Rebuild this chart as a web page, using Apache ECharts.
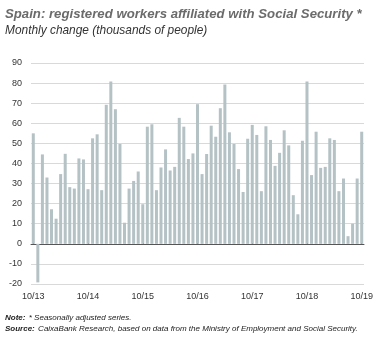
<!DOCTYPE html>
<html>
<head>
<meta charset="utf-8">
<script src="https://cdn.jsdelivr.net/npm/echarts@6/dist/echarts.min.js"></script>
<style>
html,body{margin:0;padding:0;background:#fff;}
#chart{width:380px;height:338px;}
</style>
</head>
<body>
<div id="chart"></div>
<script>
// Monthly change in Social Security affiliates (thousands), 10/2013 - 10/2019
const startYear = 13, startMonth = 10;
const values = [
  55, -19.2, 44.5, 33, 17.2, 12.5, 34.7, 44.8, 28.2, 27.5, 42.5, 42,
  27.2, 52.5, 54.5, 26.7, 69.2, 80.8, 67, 49.7, 10.5, 27.5, 31.3, 36,
  19.7, 58.3, 59.5, 26.7, 38, 47, 36.5, 38.3, 62.7, 58.3, 42.2, 45,
  69.5, 34.7, 44.7, 58.8, 53.3, 67.5, 79.3, 55.5, 49.7, 37.2, 25.8, 52.3,
  59.2, 54.2, 26.2, 58.5, 51.7, 38.8, 45.3, 56.5, 49, 24.2, 14.7, 51.3,
  80.8, 34.2, 55.8, 37.8, 38.3, 52.5, 51.7, 26.2, 32.5, 3.8, 10, 32.5, 55.8
];
const categories = [];
for (let i = 0; i < values.length; i++) {
  const m = (startMonth - 1 + i) % 12 + 1;
  const y = startYear + Math.floor((startMonth - 1 + i) / 12);
  categories.push(m + '/' + y);
}
const yTicks = {min: -20, max: 90, interval: 10};

const chart = echarts.init(document.getElementById('chart'), null, {renderer: 'canvas'});
const fontFam = '"Liberation Sans", Arial, sans-serif';
chart.setOption({
  animation: false,
  grid: {left: 31, right: 16, top: 63, bottom: 54, containLabel: false},
  xAxis: [
    {
      type: 'category', data: categories,
      axisLine: {show: true, onZero: true, lineStyle: {color: '#555', width: 1}},
      axisTick: {show: true, interval: 11, alignWithLabel: true, inside: true, length: 2, lineStyle: {color: '#333'}},
      axisLabel: {show: false},
      splitLine: {show: false}
    },
    {
      type: 'category', data: categories, position: 'bottom',
      axisLine: {show: false, onZero: false},
      axisTick: {show: false},
      axisLabel: {show: true, interval: 11, color: '#333', fontSize: 9, fontFamily: fontFam, margin: 8},
      splitLine: {show: false}
    }
  ],
  yAxis: {
    type: 'value', min: yTicks.min, max: yTicks.max, interval: yTicks.interval,
    axisLine: {show: false}, axisTick: {show: false},
    axisLabel: {color: '#333', fontSize: 9, fontFamily: fontFam, margin: 9},
    splitLine: {lineStyle: {color: '#d9d9d9', width: 1}}
  },
  series: [{
    type: 'bar', data: values, xAxisIndex: 0, barWidth: 3,
    itemStyle: {color: '#b4c1c5'}
  }],
  graphic: [
    {type: 'text', left: 5, top: 8, style: {text: 'Spain: registered workers affiliated with Social Security *', font: 'italic bold 13.2px ' + fontFam, fill: '#6b6b6b'}},
    {type: 'text', left: 5, top: 25, style: {text: 'Monthly change (thousands of people)', font: 'italic 11.9px ' + fontFam, fill: '#333'}},
    {type: 'text', left: 5, top: 312, style: {
      text: '{b|Note:} {i|* Seasonally adjusted series.}',
      rich: {b: {font: 'italic bold 8px ' + fontFam, fill: '#222'}, i: {font: 'italic 8px ' + fontFam, fill: '#222'}}
    }},
    {type: 'text', left: 5, top: 323, style: {
      text: '{b|Source:} {i|CaixaBank Research, based on data from the Ministry of Employment and Social Security.}',
      rich: {b: {font: 'italic bold 8px ' + fontFam, fill: '#222'}, i: {font: 'italic 8px ' + fontFam, fill: '#222'}}
    }}
  ]
});
</script>
</body>
</html>
